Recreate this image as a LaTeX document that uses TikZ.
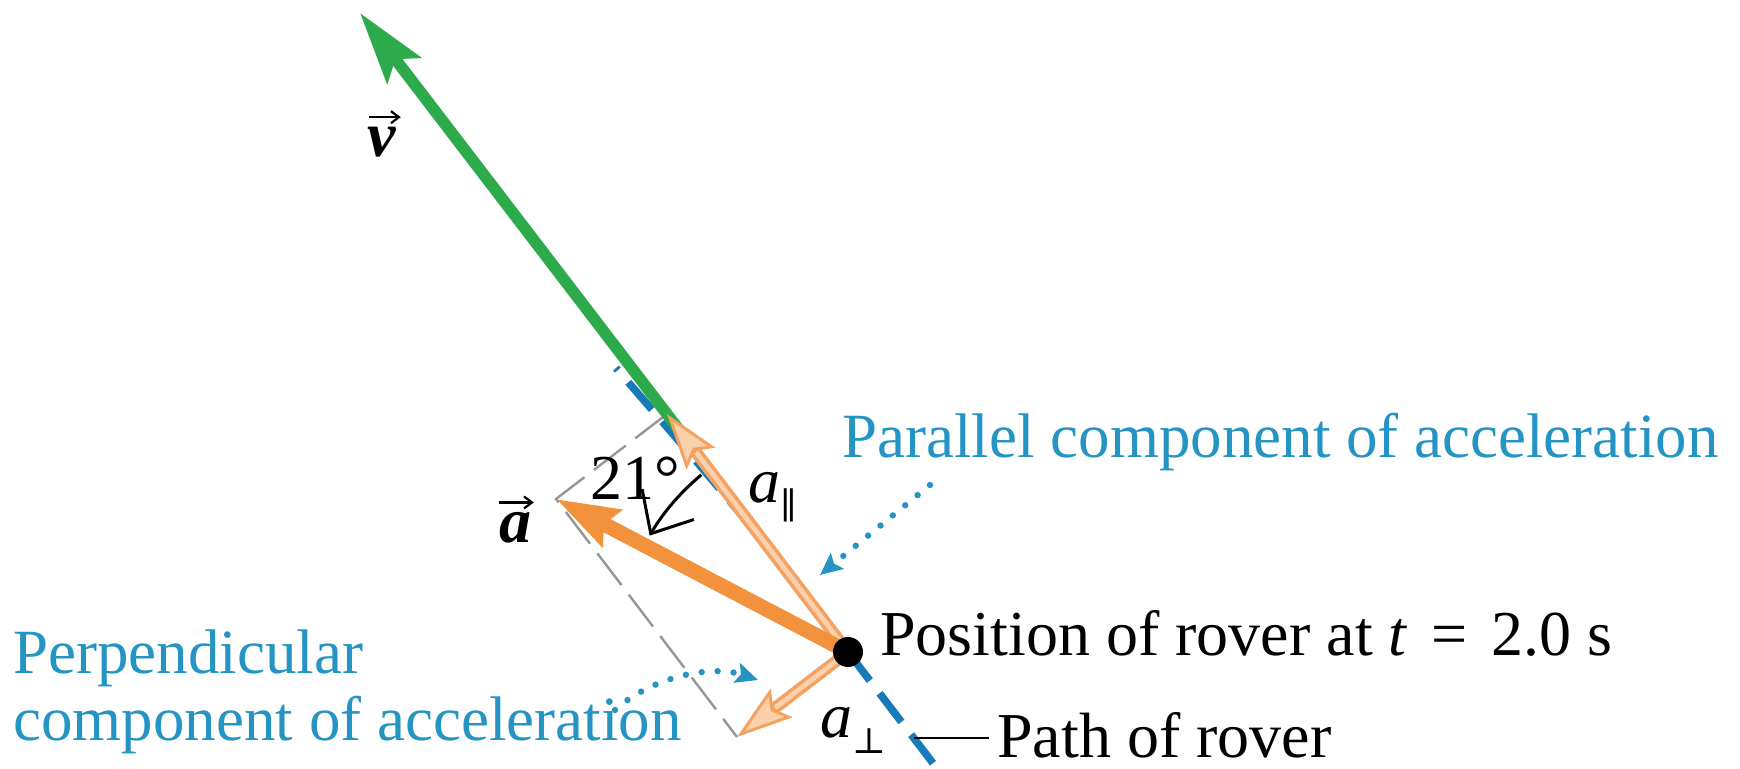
\documentclass[tikz,border=0pt]{standalone}
\usepackage{fontspec}
\setmainfont{Liberation Serif}
\newfontfamily\symfont{DejaVu Serif}
\usetikzlibrary{arrows.meta,calc}
\definecolor{vgreen}{RGB}{45,170,75}
\definecolor{aorange}{RGB}{243,146,60}
\definecolor{compedge}{RGB}{242,162,98}
\definecolor{compfill}{RGB}{251,208,170}
\definecolor{txtblue}{RGB}{35,148,195}
\definecolor{pathblue}{RGB}{25,122,185}
\definecolor{dashgray}{RGB}{150,150,150}
\newcommand{\subsym}[1]{\raisebox{-0.25em}{\fontsize{18}{18}\selectfont\symfont #1}}
\tikzset{
  lbl/.style={anchor=base west, inner sep=0pt, font=\fontsize{32}{38}\selectfont},
  bluelbl/.style={lbl, text=txtblue, font=\fontsize{31.5}{38}\selectfont},
  vecarrow/.style={line width=1.1pt, -{Straight Barb[length=4pt,width=6pt]}},
  compshaft/.style={draw=compedge, line width=6pt, -{Stealth[length=28pt,width=18pt,inset=5pt,fill=compfill,line width=1.5pt]}},
  compcore/.style={draw=compfill, line width=2.4pt, shorten >=24pt},
  dotarrow/.style={draw=txtblue, line width=3.2pt, line cap=round, dash pattern=on 0pt off 8pt, -{Stealth[length=11pt,width=10pt,inset=2pt]}},
  rovpath/.style={draw=pathblue, line width=3.8pt, dash pattern=on 18pt off 8pt},
  guide/.style={draw=dashgray, line width=1.2pt, dash pattern=on 20pt off 6pt},
}
\begin{document}
\begin{tikzpicture}[x=0.5pt,y=-0.5pt]
\useasboundingbox (0,0) rectangle (1740,769);
% key points (pixel frame, y downward)
\coordinate (R) at (848,652);
\coordinate (vtip) at (360,13);
\coordinate (atip) at (556,499);
\coordinate (ptip) at (667,414);
\coordinate (qtip) at (737,737);
\coordinate (pbot) at (942,775);
\coordinate (ptop) at (616,368);
\coordinate (vstart) at ($(R)!0.93!(ptip)$);
% path of rover
\draw[rovpath] (R) -- (pbot);
\draw[rovpath] (R) .. controls (748,521) .. (ptop);
% guide rectangle
\draw[guide] (ptip) -- (atip) -- (qtip);
% velocity
\draw[vgreen, line width=5.8pt, -{Stealth[length=36pt,width=21pt,inset=7pt]}] (vstart) -- (vtip);
% components
\draw[compshaft] (R) -- (ptip);
\draw[compcore] (R) -- (ptip);
\draw[compshaft] (R) -- (qtip);
\draw[compcore] (R) -- (qtip);
% acceleration
\draw[aorange, line width=7.5pt, -{Stealth[length=31pt,width=20pt,inset=4pt]}] (R) -- (atip);
% rover
\fill (R) circle[radius=15];
% angle arc
\coordinate (arcstart) at ($(R)+(230.4:230)$);
\draw[line width=1.5pt, -{Straight Barb[length=17pt,width=30pt]}] (arcstart) arc[start angle=230.4, end angle=210.4, radius=230];
% labels
\node[lbl] (vlbl) at (367,157) {\textbf{\textit{v}}};
\draw[vecarrow] ([xshift=1pt,yshift=5pt]vlbl.north west) -- ([xshift=2pt,yshift=5pt]vlbl.north east);
\node[lbl] (albl) at (499,543) {\textbf{\textit{a}}};
\draw[vecarrow] ([xshift=0pt,yshift=5pt]albl.north west) -- ([xshift=1pt,yshift=5pt]albl.north east);
\node[lbl] (anglbl) at (590,500) {21°};
\node[lbl] (parcomp) at (748,503) {\textit{a}\subsym{∥}};
\node[lbl] (perpcomp) at (820,737) {\textit{a}\subsym{⊥}};
\node[lbl] (poslbl) at (880,655) {Position of rover at \textit{t}\hspace{0.12em} = \hspace{0.12em}2.0 s};
\node[lbl] (pathlbl) at (997,757) {Path of rover};
\coordinate (pathtick) at (914,738);
\draw[line width=1.3pt] (pathtick) -- ([xshift=-4pt]pathtick -| pathlbl.west);
\node[bluelbl] (parlbl) at (842,458) {Parallel component of acceleration};
\node[bluelbl] (perplbl) at (13,673) {Perpendicular};
\node[bluelbl] (perplblb) at (13,740) {component of acceleration};
% dotted pointers
\coordinate (pardotstart) at (930,485);
\coordinate (pardotend) at (820,575);
\draw[dotarrow] (pardotstart) -- (pardotend);
\coordinate (perpdotstart) at (615,710);
\coordinate (perpdotend) at (758,680);
\draw[dotarrow] (perpdotstart) .. controls (650,678) and (710,664) .. (perpdotend);
\end{tikzpicture}
\end{document}
